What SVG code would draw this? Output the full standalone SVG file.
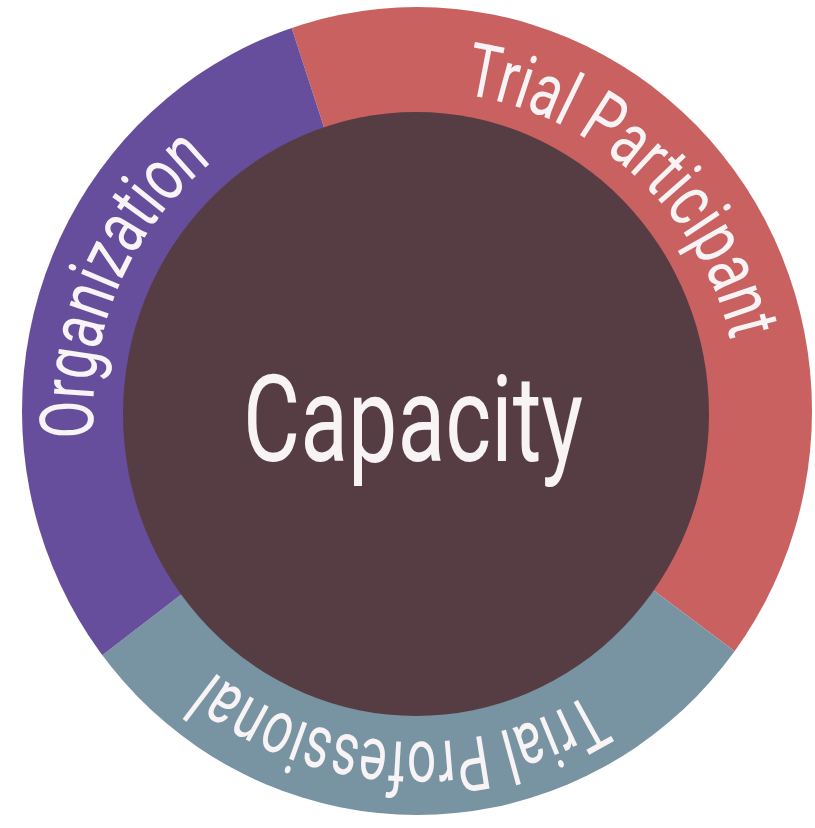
<svg xmlns="http://www.w3.org/2000/svg" width="815" height="828" viewBox="0 0 815 828">
  <defs>
    <clipPath id="ring">
      <ellipse cx="417" cy="411" rx="395" ry="404"/>
    </clipPath>
    <path id="arcParticipant" d="M463.48,94.37 A322,322 0 0 1 737.78,384.94"/>
    <path id="arcOrganization" d="M93.96,437.86 A324,324 0 0 1 255,132.41"/>
    <path id="arcProfessional" d="M588.9,693.52 A329,329 0 0 1 164.97,624.48"/>
  </defs>
  <style>
    .lbl { font-family: Roboto, "Liberation Sans", sans-serif; fill: #f8f3f5; }
    .ring-text { font-size: 75px; }
  </style>
  <rect width="815" height="828" fill="#ffffff"/>
  <g id="segments" clip-path="url(#ring)">
    <g id="seg-participant"><path d="M417,413 L167,-355 L1200,-355 L1200,893 L1057,893 Z" fill="#c8615f"/></g>
    <g id="seg-professional"><path d="M417,413 L1057,893 L1057,1000 L-217,1000 L-217,901 Z" fill="#7893a1"/></g>
    <g id="seg-organization"><path d="M417,413 L-217,901 L-400,901 L-400,-355 L167,-355 Z" fill="#664e9c"/></g>
  </g>
  <g id="capacity">
    <ellipse cx="416" cy="414" rx="293" ry="302" fill="#553d43"/>
    <text class="lbl" x="413" y="461" font-size="120" text-anchor="middle" textLength="340" lengthAdjust="spacingAndGlyphs">Capacity</text>
  </g>
  <g id="label-participant">
    <text class="lbl ring-text"><textPath href="#arcParticipant" textLength="386" lengthAdjust="spacingAndGlyphs">Trial Participant</textPath></text>
  </g>
  <g id="label-organization">
    <text class="lbl ring-text"><textPath href="#arcOrganization" textLength="312" lengthAdjust="spacingAndGlyphs">Organization</textPath></text>
  </g>
  <g id="label-professional">
    <text class="lbl ring-text"><textPath href="#arcProfessional" textLength="400" lengthAdjust="spacingAndGlyphs">Trial Professional</textPath></text>
  </g>
  <g id="connectors"></g>
</svg>
